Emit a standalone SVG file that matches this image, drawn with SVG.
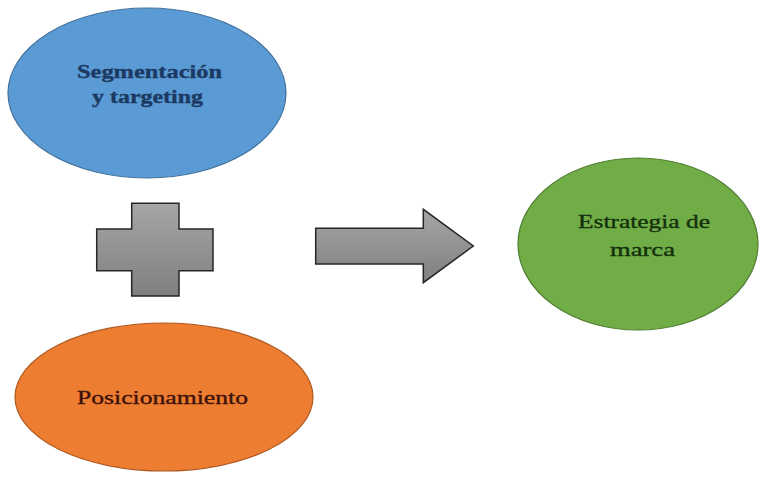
<svg xmlns="http://www.w3.org/2000/svg" width="763" height="481" viewBox="0 0 763 481">
  <defs>
    <linearGradient id="gray" x1="0" y1="0" x2="0" y2="1">
      <stop offset="0" stop-color="#a6a6a6"/>
      <stop offset="1" stop-color="#7f7f7f"/>
    </linearGradient>
  </defs>
  <style>
    .lbl { font-family: "Liberation Serif", "Times New Roman", serif; font-size: 19px; text-anchor: middle; stroke-width: 0.35; }
    .sym { fill: url(#gray); stroke: #262626; stroke-width: 1.5; stroke-linejoin: miter; }
  </style>
  <rect width="763" height="481" fill="#ffffff"/>
  <g id="node-segmentacion">
    <ellipse cx="147" cy="93" rx="139" ry="85" fill="#5b9bd5" stroke="#41719c" stroke-width="1.2"/>
    <text class="lbl" x="149.5" y="78" textLength="145" lengthAdjust="spacingAndGlyphs" fill="#1b3a63" stroke="#1b3a63" font-weight="bold">Segmentación</text>
    <text class="lbl" x="147.5" y="103" textLength="111" lengthAdjust="spacingAndGlyphs" fill="#1b3a63" stroke="#1b3a63" font-weight="bold">y targeting</text>
  </g>
  <g id="node-plus">
    <path class="sym" d="M131.7,203.3 H179 V229 H213 V270.7 H179 V296 H131.7 V270.7 H96.7 V229 H131.7 Z"/>
  </g>
  <g id="connectors">
    <path class="sym" d="M315.7,228.3 H423.3 V209.3 L473.3,246 L423.3,282.7 V264 H315.7 Z"/>
  </g>
  <g id="node-estrategia">
    <ellipse cx="638" cy="244" rx="120" ry="86" fill="#70ad47" stroke="#507e32" stroke-width="1.2"/>
    <text class="lbl" x="644" y="228" textLength="132" lengthAdjust="spacingAndGlyphs" fill="#14300c" stroke="#14300c">Estrategia de</text>
    <text class="lbl" x="642.5" y="256" textLength="65" lengthAdjust="spacingAndGlyphs" fill="#14300c" stroke="#14300c">marca</text>
  </g>
  <g id="node-posicionamiento">
    <ellipse cx="164" cy="397" rx="149" ry="74" fill="#ed7d31" stroke="#ae5a21" stroke-width="1.2"/>
    <text class="lbl" x="162.5" y="404" textLength="171" lengthAdjust="spacingAndGlyphs" fill="#3d120a" stroke="#3d120a">Posicionamiento</text>
  </g>
</svg>
